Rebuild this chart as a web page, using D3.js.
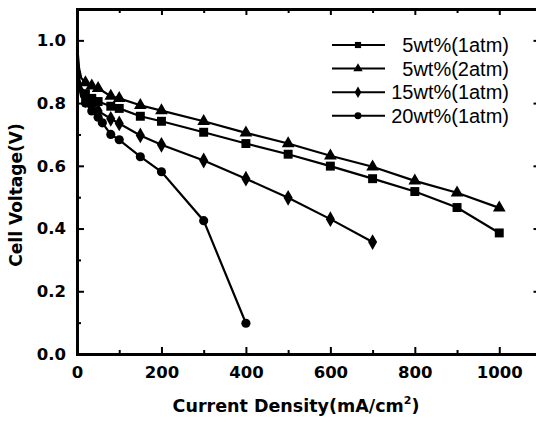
<!DOCTYPE html>
<html>
<head>
<meta charset="utf-8">
<script src="https://cdn.jsdelivr.net/npm/d3@7"></script>
<style>
  body { margin: 0; background: #fff; }
  text { font-family: "DejaVu Sans", Arial, sans-serif; font-weight: bold; fill: #000; }
</style>
</head>
<body>
<div id="chart"></div>
<script>
// series data (current density mA/cm2, cell voltage V)
var x5wt1 = [0, 5, 10, 20, 35, 50, 80, 100, 150, 200, 300, 400, 500, 600, 700, 800, 900, 1000];
var y5wt1 = [0.98, 0.88, 0.85, 0.83, 0.815, 0.805, 0.790, 0.783, 0.758, 0.742, 0.707, 0.671, 0.637, 0.599, 0.559, 0.518, 0.467, 0.386];
var x5wt2 = [0, 5, 10, 20, 35, 50, 80, 100, 150, 200, 300, 400, 500, 600, 700, 800, 900, 1000];
var y5wt2 = [0.99, 0.91, 0.88, 0.865, 0.855, 0.847, 0.822, 0.815, 0.793, 0.776, 0.742, 0.705, 0.671, 0.632, 0.597, 0.552, 0.514, 0.466];
var x15wt = [0, 5, 10, 20, 35, 50, 80, 100, 150, 200, 300, 400, 500, 600, 700];
var y15wt = [0.97, 0.86, 0.83, 0.81, 0.79, 0.775, 0.750, 0.735, 0.697, 0.667, 0.617, 0.559, 0.498, 0.430, 0.357];
var x20wt = [0, 5, 10, 20, 35, 50, 60, 80, 100, 150, 200, 300, 400];
var y20wt = [0.96, 0.85, 0.82, 0.80, 0.775, 0.755, 0.737, 0.70, 0.683, 0.629, 0.581, 0.425, 0.098];

var seriesNames = ["5wt%(1atm)", "5wt%(2atm)", "15wt%(1atm)", "20wt%(1atm)"];
var seriesSymbols = ["square", "triangle", "diamond", "circle"];

var xTicks = [0, 200, 400, 600, 800, 1000];
var yTicks = [0.0, 0.2, 0.4, 0.6, 0.8, 1.0];

var svgWidth = 536;
var svgHeight = 426;

var margin = { top: 9, left: 77, bottom: 72 };
var plotRight = 541.5; // right frame sits just past the picture edge

var svg = d3.select("#chart")
  .append("svg")
  .attr("width", svgWidth)
  .attr("height", svgHeight);

var xScale = d3.scaleLinear()
  .domain([0, 1100])
  .range([margin.left, plotRight]);

var yScale = d3.scaleLinear()
  .domain([0, 1.1])
  .range([svgHeight - margin.bottom, margin.top]);

var minorX = d3.range(100, 1100, 200);
var minorY = d3.range(0.1, 1.1, 0.2);

// bottom axis, ticks pointing inward
var axisB = svg.append("g")
  .attr("transform", `translate(0, ${yScale(0)})`)
  .call(d3.axisBottom(xScale).tickValues(xTicks).tickSizeInner(-7).tickSizeOuter(0).tickPadding(12)
    .tickFormat(d3.format("d")));
axisB.append("g").call(d3.axisBottom(xScale).tickValues(minorX).tickSize(-4).tickFormat(""));

// top axis
var axisT = svg.append("g")
  .attr("transform", `translate(0, ${yScale(1.1)})`)
  .call(d3.axisTop(xScale).tickValues(xTicks).tickSizeInner(-6).tickSizeOuter(0).tickFormat(""));
axisT.append("g").call(d3.axisTop(xScale).tickValues(minorX).tickSize(-4).tickFormat(""));

// left axis
var axisL = svg.append("g")
  .attr("transform", `translate(${xScale(0)}, 0)`)
  .call(d3.axisLeft(yScale).tickValues(yTicks).tickSizeInner(-7).tickSizeOuter(0).tickPadding(11)
    .tickFormat(d3.format(".1f")));
axisL.append("g").call(d3.axisLeft(yScale).tickValues(minorY).tickSize(-4).tickFormat(""));

// right axis
var axisR = svg.append("g")
  .attr("transform", `translate(${xScale(1100)}, 0)`)
  .call(d3.axisRight(yScale).tickValues(yTicks).tickSizeInner(-8).tickSizeOuter(0).tickFormat(""));

svg.selectAll(".domain").attr("stroke", "#000").attr("stroke-width", 2.8);
svg.selectAll(".tick line").attr("stroke", "#000").attr("stroke-width", 2);
svg.selectAll(".tick text")
  .attr("font-size", 16.5)
  .attr("font-family", "DejaVu Sans, sans-serif")
  .attr("font-weight", "bold")
  .attr("fill", "#000");

// symbols
var symbolTypes = {
  square: d3.symbolSquare,
  triangle: d3.symbolTriangle,
  diamond: d3.symbolDiamond,
  circle: d3.symbolCircle
};
var symbolSizes = { square: 80, triangle: 70, diamond: 72, circle: 66 };

var allSeries = [
  { name: seriesNames[0], sym: seriesSymbols[0], xs: x5wt1, ys: y5wt1 },
  { name: seriesNames[1], sym: seriesSymbols[1], xs: x5wt2, ys: y5wt2 },
  { name: seriesNames[2], sym: seriesSymbols[2], xs: x15wt, ys: y15wt },
  { name: seriesNames[3], sym: seriesSymbols[3], xs: x20wt, ys: y20wt }
];

var line = d3.line()
  .x(d => xScale(d[0]))
  .y(d => yScale(d[1]));

allSeries.forEach(function(s) {
  var pts = s.xs.map((x, i) => [x, s.ys[i]]);
  svg.append("path")
    .datum(pts)
    .attr("d", line)
    .attr("fill", "none")
    .attr("stroke", "#000")
    .attr("stroke-width", 2.2);

  svg.append("g").selectAll("path")
    .data(pts.filter(d => d[0] >= 20))
    .enter()
    .append("path")
    .attr("transform", d => `translate(${xScale(d[0])}, ${yScale(d[1])})`)
    .attr("d", d3.symbol().type(symbolTypes[s.sym]).size(symbolSizes[s.sym]))
    .attr("fill", "#000");
});

// legend
var legend = svg.append("g");
allSeries.forEach(function(s, i) {
  var ly = 45 + i * 23.6;
  legend.append("line")
    .attr("x1", 332).attr("x2", 385)
    .attr("y1", ly).attr("y2", ly)
    .attr("stroke", "#000").attr("stroke-width", 2);
  legend.append("path")
    .attr("transform", `translate(358, ${ly})`)
    .attr("d", d3.symbol().type(symbolTypes[s.sym]).size(38))
    .attr("fill", "#000");
  legend.append("text")
    .attr("x", 509).attr("y", ly)
    .attr("dy", "0.36em")
    .attr("text-anchor", "end")
    .style("font-family", "Liberation Sans, Arial, sans-serif")
    .style("font-size", "20px")
    .style("font-weight", "normal")
    .text(s.name);
});

// axis titles
var xTitle = svg.append("text")
  .attr("x", 296)
  .attr("y", 412)
  .attr("text-anchor", "middle")
  .style("font-size", "17.5px");
xTitle.append("tspan").text("Current Density(mA/cm");
xTitle.append("tspan").attr("dy", -8).style("font-size", "11px").text("2");
xTitle.append("tspan").attr("dy", 8).text(")");

svg.append("text")
  .attr("transform", "rotate(-90)")
  .attr("x", -195)
  .attr("y", 22)
  .attr("text-anchor", "middle")
  .style("font-size", "17px")
  .text("Cell Voltage(V)");
</script>
</body>
</html>
